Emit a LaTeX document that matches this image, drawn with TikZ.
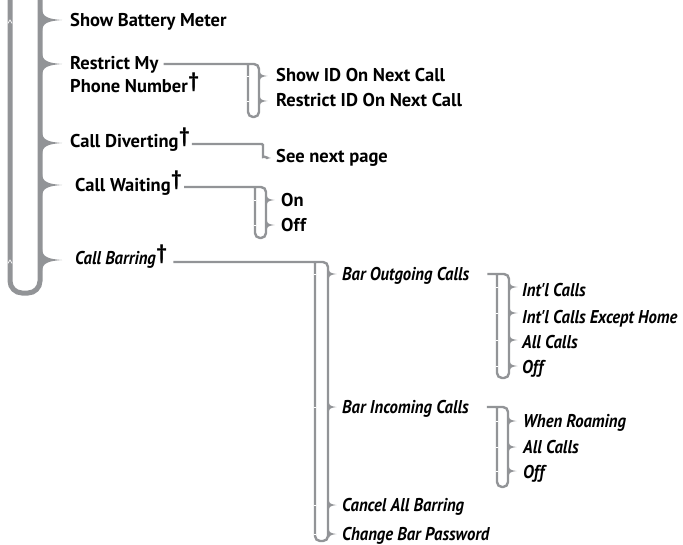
\documentclass[tikz,border=0pt]{standalone}
\usepackage{fontspec}
\newfontfamily\ptsans{PT Sans}[Ligatures=NoCommon]
\newfontfamily\ptsansi{PT Sans}[Ligatures=NoCommon,FakeStretch=0.9]
\usetikzlibrary{calc}
\definecolor{lg}{RGB}{146,148,151}
\newcommand\dg{\kern0.5bp\raisebox{5.5bp}{\ptsans\bfseries\upshape\fontsize{21bp}{21bp}\selectfont †}}
\newcommand\Off{Of\kern0.6bp f}
\newcommand\subbrk[5]{%
  \draw[subline] (#1) -- (#1 -| #3,0) -- (#3,#4) -- (#2,#4) -- (#1 -| #2,0);
  \foreach \cy in {#5}{%
    \fill[lg,shift={(#3,\cy)}] (0.8,-5) .. controls (1,-1.5) and (3,-0.7) .. (8.5,0) .. controls (3,0.7) and (1,1.5) .. (0.8,5) -- cycle;
    \draw[white,line width=0.5bp] (#2-1.2,\cy) -- (#2+1.2,\cy);
  }%
}
\newcommand\maincusp[1]{%
  \fill[lg,shift={(40,#1)}] (2,-11) .. controls (2.5,-3) and (8,-1) .. (22,0) .. controls (8,1) and (2.5,3) .. (2,11) -- cycle;
}
\begin{document}
\begin{tikzpicture}[x=1bp,y=-1bp,
  txt/.style={anchor=base west, inner sep=0pt, font=\ptsans\bfseries\fontsize{18.5bp}{20bp}\selectfont},
  itxt/.style={anchor=base west, inner sep=0pt, font=\ptsansi\bfseries\itshape\fontsize{18.5bp}{20bp}\selectfont},
  mainline/.style={draw=lg, line width=5bp, rounded corners=12bp},
  subline/.style={draw=lg, line width=2.4bp, rounded corners=5bp},
]
\useasboundingbox (0,0) rectangle (683,545);

% main bracket
\draw[mainline] (10,-8) -- (10,293) -- (40,293) -- (40,-8);
\foreach \c in {20,64,143,185,260}{\maincusp{\c}}
\foreach \c in {20,260}{\draw[white,line width=0.7bp] (7.8,23.5) ++(0,\c-20) -- ++(2.2,-3.5) -- ++(2.2,3.5);}

% level 1
\node[txt] (sbm) at (70,26.5) {Show Battery Meter};
\node[txt] (rm) at (70,70) {Restrict My};
\node[txt] (pn) at (70,93) {Phone Number\dg};
\node[txt] (cd) at (70,148) {Call Diverting\dg};
\node[txt] (cw) at (75,191.5) {Call Waiting\dg};
\node[itxt] (cb) at (75,265) {Call Barring\dg};

% restrict
\node[txt] (sid) at (276,81.5) {Show ID On Next Call};
\node[txt] (rid) at (276,106.5) {Restrict ID On Next Call};
\coordinate (rmo) at ($(rm.base east)+(5,-6)$);
\subbrk{rmo}{248}{259}{117}{76,101}

% diverting
\node[txt] (snp) at (276,163) {See next page};
\coordinate (cdo) at ($(cd.base east)+(2,-4)$);
\draw[subline] (cdo) -- (cdo -| 257,0) .. controls (262.5,144) and (263,146) .. (263,150) -- (263,152) .. controls (263,155.5) and (265,157.5) .. (268,158);
\fill[lg] (266,156.6) -- (271,158) -- (266,159.2) -- cycle;

% waiting
\node[txt] (on) at (281,206.5) {On};
\node[txt] (off) at (281,231.5) {\Off};
\coordinate (cwo) at ($(cw.base east)+(2,-4.5)$);
\subbrk{cwo}{255}{266}{238}{200,225}

% barring
\node[itxt] (boc) at (342,280) {Bar Outgoing Calls};
\node[itxt] (bic) at (342,413) {Bar Incoming Calls};
\node[itxt] (cab) at (342,511.5) {Cancel All Barring};
\node[itxt] (cbp) at (342,540) {Change Bar Password};
\coordinate (cbo) at ($(cb.base east)+(6,-3)$);
\subbrk{cbo}{315}{328}{541}{274,407,505,534}

% outgoing
\node[itxt] (o1) at (522,296.5) {Int'l Calls};
\node[itxt] (o2) at (522,323) {Int'l Calls Except Home};
\node[itxt] (o3) at (522,348) {All Calls};
\node[itxt] (o4) at (522,373) {\Off};
\coordinate (boco) at ($(boc.base east)+(18,-6)$);
\subbrk{boco}{497}{509}{378}{287,313,340,366}

% incoming
\node[itxt] (i1) at (523,427) {When Roaming};
\node[itxt] (i2) at (523,453) {All Calls};
\node[itxt] (i3) at (523,478) {\Off};
\coordinate (bico) at ($(bic.base east)+(18,-6)$);
\subbrk{bico}{497}{508}{487}{421,447,471}
\end{tikzpicture}
\end{document}
